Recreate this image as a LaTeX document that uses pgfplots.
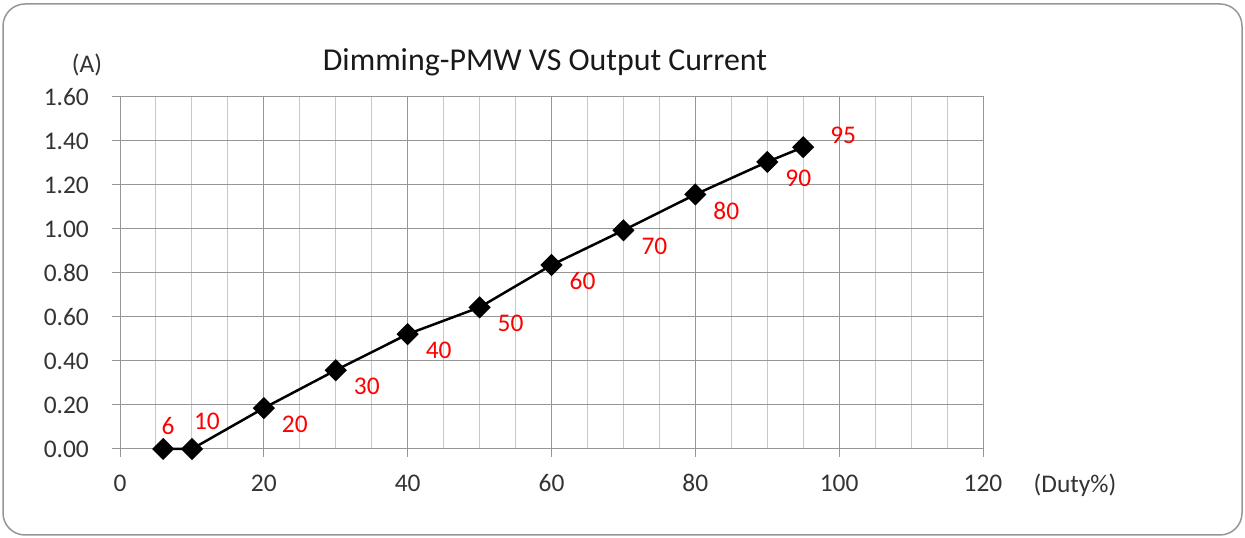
\documentclass[border=0pt]{standalone}
\usepackage{pgfplots}
\pgfplotsset{compat=1.18}
\usepackage{fontspec}
\setmainfont{Carlito}
\definecolor{majgrid}{RGB}{150,150,150}
\definecolor{mingrid}{RGB}{200,200,200}
\definecolor{lblred}{RGB}{255,0,0}
\begin{document}
\begin{tikzpicture}[x=1bp,y=1bp]
\useasboundingbox (0,0) rectangle (1245,538);
\draw[majgrid, line width=1.5bp, rounded corners=22bp] (3,3) rectangle (1242,534);
\begin{axis}[
  at={(120bp,89bp)}, anchor=south west,
  scale only axis, width=863bp, height=352bp,
  xmin=0, xmax=120, ymin=0, ymax=1.6,
  xtick={0,20,40,60,80,100,120},
  minor x tick num=3,
  ytick={0,0.2,0.4,0.6,0.8,1.0,1.2,1.4,1.6},
  grid=both,
  major grid style={majgrid, line width=1bp},
  minor grid style={mingrid, line width=1bp},
  axis line style={majgrid, line width=1bp},
  tick style={majgrid, line width=1bp},
  major tick length=8bp, minor tick length=0pt,
  tick align=outside,
  xtick pos=bottom, ytick pos=left,
  /pgf/number format/assume math mode=true,
  ticklabel style={font=\fontsize{25.5}{29}\selectfont, text=black!80},
  yticklabel style={anchor=east, inner sep=0pt, xshift=-23bp, /pgf/number format/.cd, fixed, fixed zerofill, precision=2},
  xticklabel style={anchor=center, inner sep=0pt, yshift=-26bp},
  clip=false,
]
\addplot[black, line width=2.5bp, mark=square*, mark size=6.6bp, mark options={solid, fill=black, rotate=45}]
  coordinates {(6,0) (10,0) (20,0.186) (30,0.358) (40,0.522) (50,0.644) (60,0.836) (70,0.994) (80,1.157) (90,1.305) (95,1.372)};
\addplot[draw=none, mark=none, point meta=explicit symbolic, nodes near coords,
  every node near coord/.append style={anchor=center, inner sep=0pt, text=lblred, font=\fontsize{25.5}{29}\selectfont, xshift=31bp, yshift=-16bp}]
  table[meta=lab] {
x y lab
20 0.186 20
30 0.358 30
40 0.522 40
50 0.644 50
60 0.836 60
70 0.994 70
80 1.157 80
90 1.305 90
};
\addplot[draw=none, mark=none, point meta=explicit symbolic, nodes near coords,
  every node near coord/.append style={anchor=center, inner sep=0pt, text=lblred, font=\fontsize{25.5}{29}\selectfont, xshift=5bp, yshift=23bp}]
  table[meta=lab] {
x y lab
6 0 6
};
\addplot[draw=none, mark=none, point meta=explicit symbolic, nodes near coords,
  every node near coord/.append style={anchor=center, inner sep=0pt, text=lblred, font=\fontsize{25.5}{29}\selectfont, xshift=15bp, yshift=28bp}]
  table[meta=lab] {
x y lab
10 0 10
};
\addplot[draw=none, mark=none, point meta=explicit symbolic, nodes near coords,
  every node near coord/.append style={anchor=center, inner sep=0pt, text=lblred, font=\fontsize{25.5}{29}\selectfont, xshift=40bp, yshift=12bp}]
  table[meta=lab] {
x y lab
95 1.372 95
};
\end{axis}
\node[font=\fontsize{32}{36}\selectfont, text=black!90] at (545,476) {Dimming-PMW VS Output Current};
\node[font=\fontsize{25.5}{29}\selectfont, text=black!80] at (87,473) {(A)};
\node[font=\fontsize{25.5}{29}\selectfont, text=black!80] at (1075,53) {(Duty\%)};
\end{tikzpicture}
\end{document}
